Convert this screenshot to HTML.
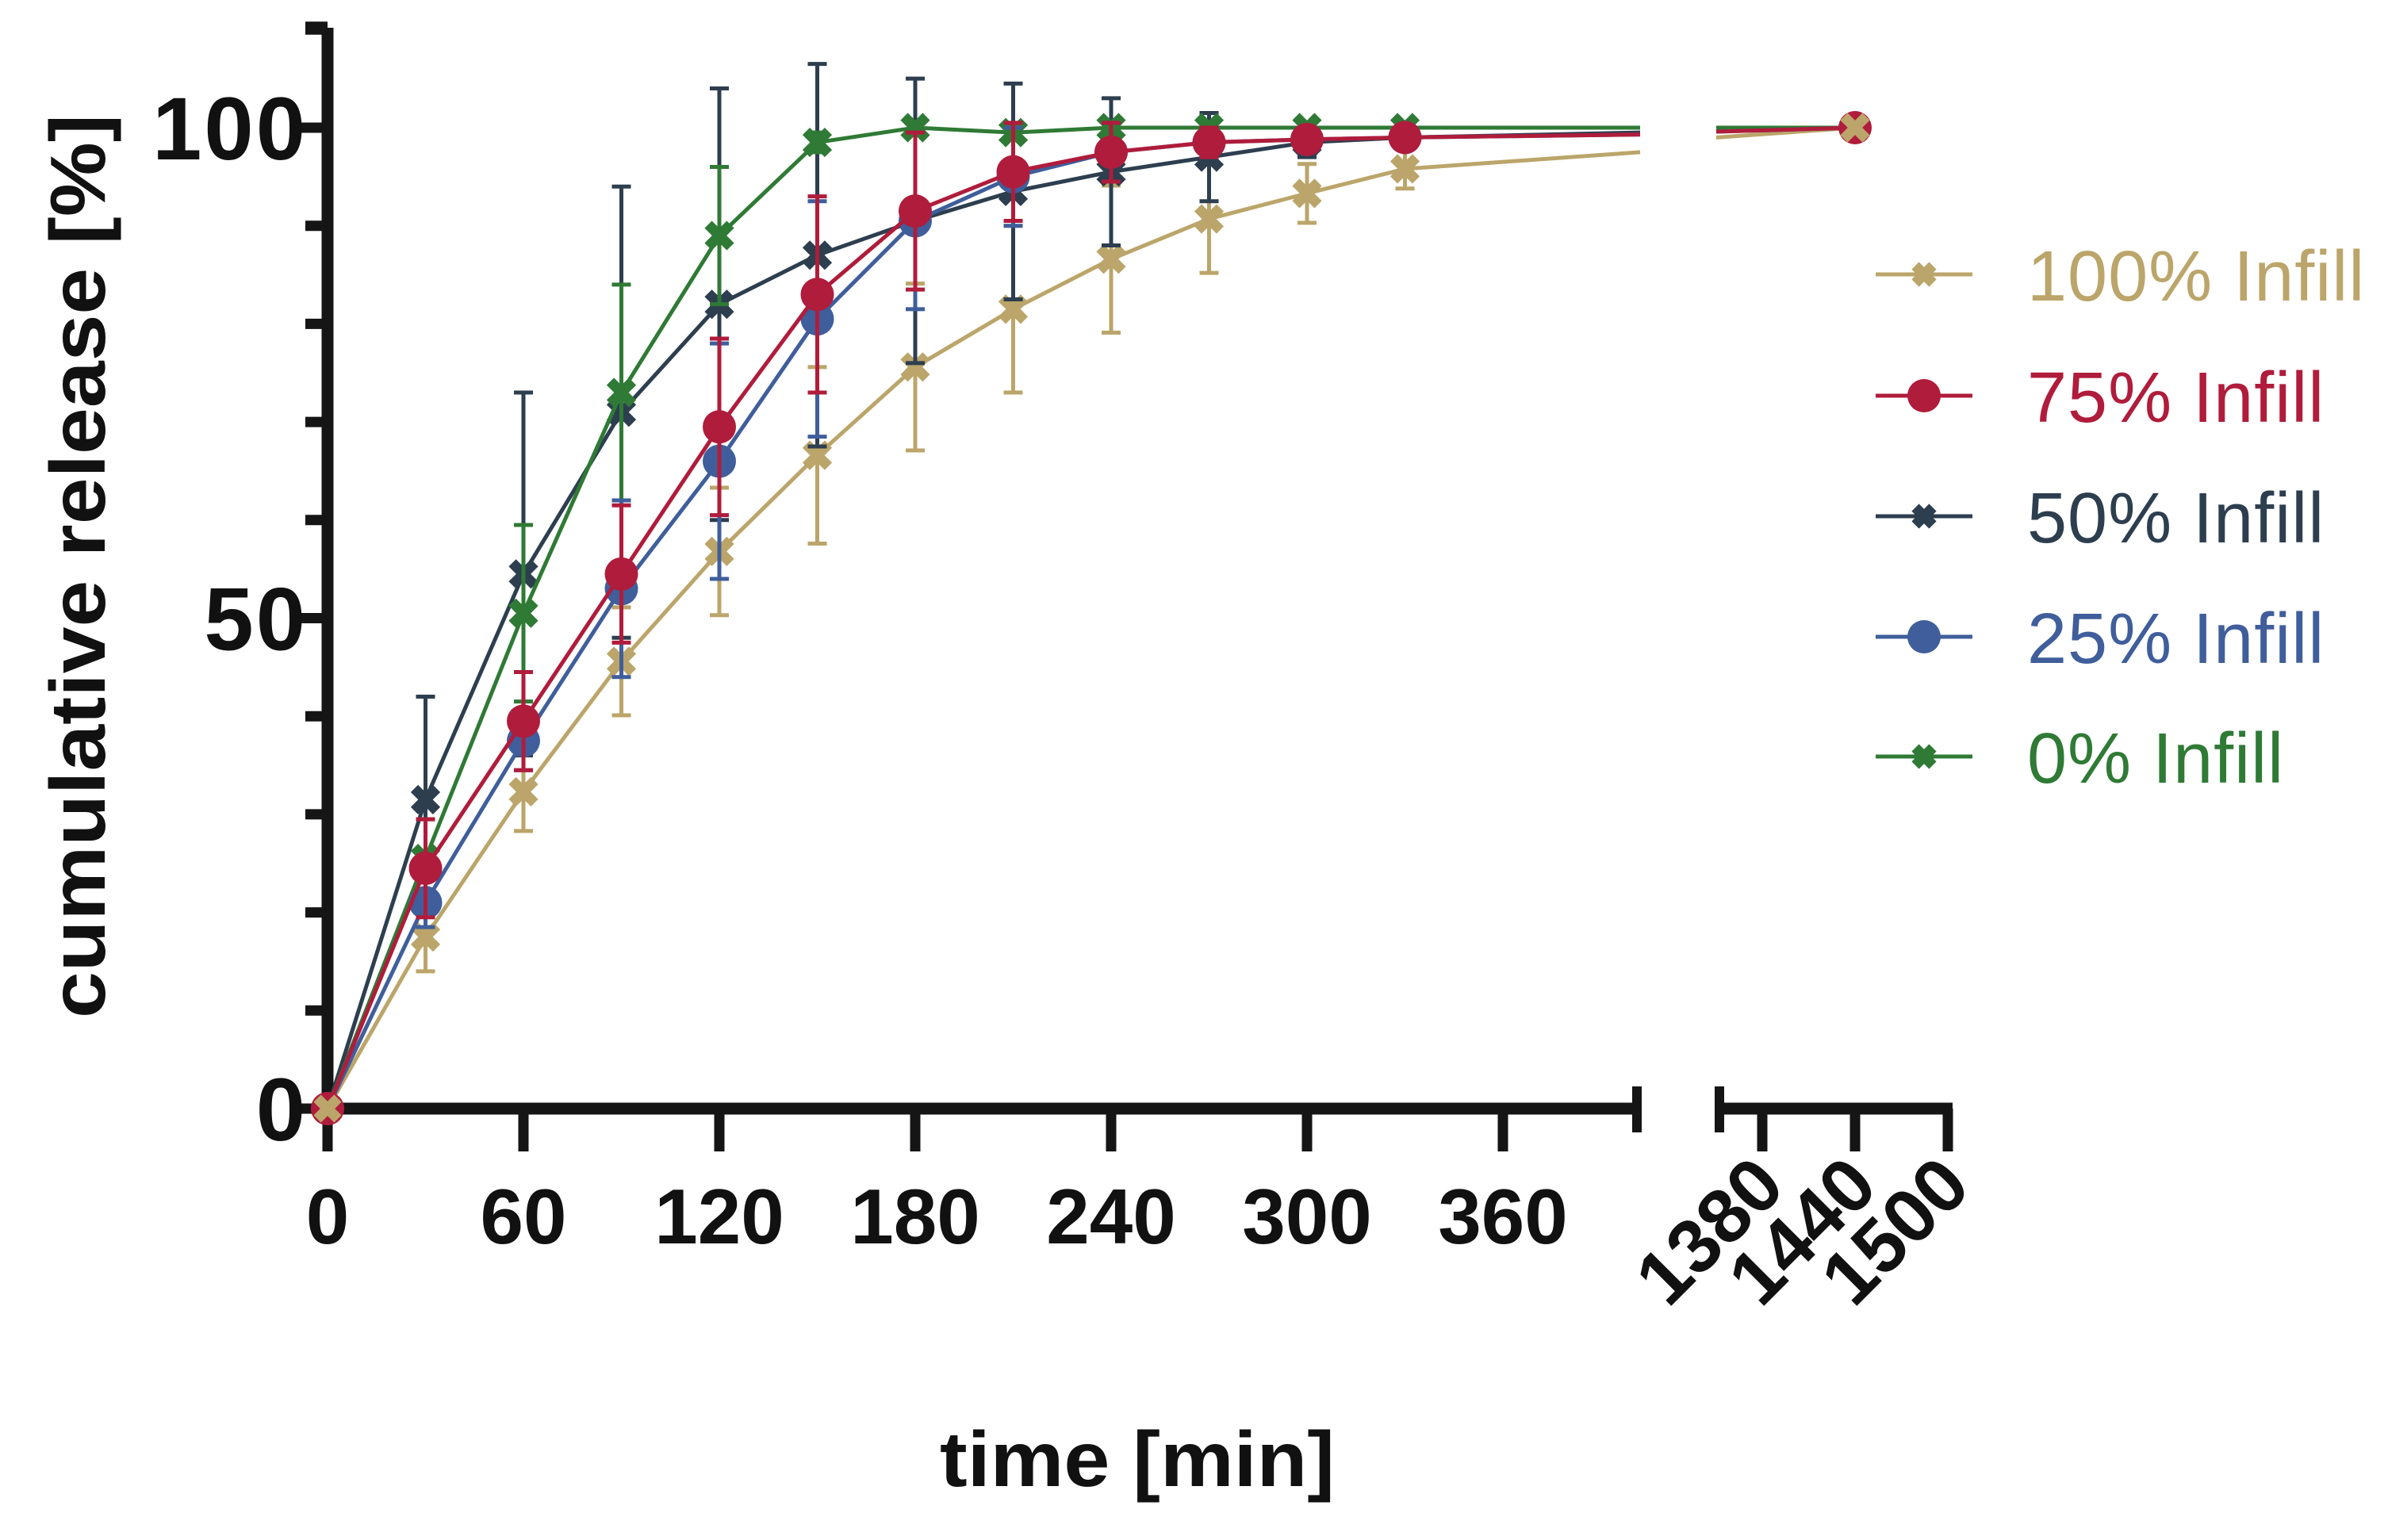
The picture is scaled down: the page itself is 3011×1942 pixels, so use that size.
<!DOCTYPE html>
<html><head><meta charset="utf-8">
<style>
html,body{margin:0;padding:0;background:#fff;}
svg{display:block;font-family:"Liberation Sans",Arial,sans-serif;}
</style></head>
<body>
<svg id="chart" width="3011" height="1942" viewBox="0 0 3011 1942" xmlns="http://www.w3.org/2000/svg">
<g id="axes"></g>
<g id="plot"></g>
<g id="legend"></g>
<text x="1434" y="1874" font-size="98" font-weight="bold" text-anchor="middle" fill="#111" textLength="498" lengthAdjust="spacingAndGlyphs">time [min]</text>
<text transform="translate(132,714) rotate(-90)" font-size="98" font-weight="bold" text-anchor="middle" fill="#111" textLength="1140" lengthAdjust="spacingAndGlyphs">cumulative release [%]</text>
</svg>
<script>
const times = [0,30,60,90,120,150,180,210,240,270,300,330];
const seriesNames = ["100% Infill","75% Infill","50% Infill","25% Infill","0% Infill"];
const seriesColors = ["#bba56a","#b01c3b","#2d3e4f","#3f5e9b","#2f7a35"];
const seriesMarkers = ["x","o","x","o","x"];
const v100 = [0,17.5,32.3,45.6,56.8,66.6,75.6,81.5,86.6,90.7,93.3,95.8];
const e100 = [0,3.5,4,5.5,6.5,9,8.5,8.5,7.5,5.5,3,2];
const v75 = [0,24.5,39.5,54.5,69.5,83,91.5,95.5,97.5,98.5,98.8,99];
const e75 = [0,5,5,7,9,10,8,5,3,1.5,1,0.5];
const v50 = [0,31.5,54.5,71,82,87,90.5,93.5,95.5,97,98.5,99];
const e50 = [0,10.5,18.5,23,22,19.5,14.5,11,7.5,4.5,1.5,0.5];
const v25 = [0,21,37.5,53,66,80.5,90.5,95,97.5,98.5,98.8,99];
const e25 = [0,2.5,3,9,12,12,9,5,3,1.5,1,0.5];
const v0 = [0,25.5,50.5,73,89,98.5,100,99.5,100,100,100,100];
const e0 = [0,4,9,11,7,1,0.5,0.5,0.5,0.5,0.5,0.5];
const breakLeftVals = [97.5,99.3,99.5,99.3,100];
const breakRightVals = [99,99.6,99.7,99.6,100];
const finalTime = 1440;
const finalVals = [100,100,100,100,100];
const xTicksLeft = [0,60,120,180,240,300,360];
const xTicksRight = [1380,1440,1500];
const yTicks = [0,50,100];

const values = [v100,v75,v50,v25,v0];
const errors = [e100,e75,e50,e25,e0];
const NS="http://www.w3.org/2000/svg";
const X0=413, PXMIN=247/60, LEFT_END=2068, BREAK_L_T=(LEFT_END-X0)/PXMIN;
const R0=2222, RPX=117/60, RIGHT_START=2164;
function xs(t){return t<=BREAK_L_T+1 ? X0+t*PXMIN : R0+(t-1380)*RPX;}
function ys(v){return 1398-v*(1398-161)/100;}
function mk(tag,attrs,parent){const e=document.createElementNS(NS,tag);for(const k in attrs)e.setAttribute(k,attrs[k]);parent.appendChild(e);return e;}

const axes=document.getElementById('axes');
let el=mk('line',{x1:X0,y1:35,x2:X0,y2:1406,stroke:'#151515','stroke-width':15},axes);


for(let v=0;v<=110;v+=10){
  const major=yTicks.includes(v);
  el=mk('line',{x1:major?372:385,y1:ys(v),x2:X0,y2:ys(v),stroke:'#151515','stroke-width':13},axes);
  
  
}
el=mk('line',{x1:385,y1:ys(110)-5,x2:X0,y2:ys(110)-5,stroke:'#151515','stroke-width':10},axes);


yTicks.forEach(v=>{
  const t=mk('text',{x:388,y:ys(v)+40,'font-size':112,'font-weight':'bold','text-anchor':'end',fill:'#111','letter-spacing':3},axes);
  t.textContent=v;
  
  
});
el=mk('line',{x1:X0-8,y1:1398,x2:LEFT_END,y2:1398,stroke:'#151515','stroke-width':15},axes);


el=mk('line',{x1:LEFT_END-4,y1:1370,x2:LEFT_END-4,y2:1428,stroke:'#151515','stroke-width':12},axes);


xTicksLeft.forEach(t=>{
  el=mk('line',{x1:xs(t),y1:1398,x2:xs(t),y2:1452,stroke:'#151515','stroke-width':13},axes);
  
  
  const tx=mk('text',{x:xs(t),y:1568,'font-size':98,'font-weight':'bold','text-anchor':'middle',fill:'#111'},axes);
  tx.textContent=t;
  
  
});
el=mk('line',{x1:RIGHT_START,y1:1398,x2:xs(1500)+6,y2:1398,stroke:'#151515','stroke-width':15},axes);


el=mk('line',{x1:RIGHT_START+4,y1:1370,x2:RIGHT_START+4,y2:1428,stroke:'#151515','stroke-width':12},axes);


xTicksRight.forEach(t=>{
  el=mk('line',{x1:xs(t),y1:1398,x2:xs(t),y2:1452,stroke:'#151515','stroke-width':13},axes);
  
  
  const tx=mk('text',{transform:`translate(${xs(t)+32},1500) rotate(-45)`,'font-size':96,'font-weight':'bold','text-anchor':'end',fill:'#111'},axes);
  tx.textContent=t;
  
  
});

function marker(g,type,x,y,c,r){
  if(type==='o'){
    return mk('circle',{cx:x,cy:y,r:r||21,fill:c},g);
  }
  const s=r||14;
  const m=mk('g',{},g);
  mk('line',{x1:x-s,y1:y-s,x2:x+s,y2:y+s,stroke:c,'stroke-width':13},m);
  mk('line',{x1:x-s,y1:y+s,x2:x+s,y2:y-s,stroke:c,'stroke-width':13},m);
  return m;
}

const plot=document.getElementById('plot');
[0,2,4,3,1].forEach(i=>{
  const c=seriesColors[i], vals=values[i], errs=errors[i];
  const g=mk('g',{},plot);
  
  
  vals.forEach((v,j)=>{
    if(errs[j]<=0.6)return;
    const x=xs(times[j]);
    const eb=mk('path',{d:`M${x},${ys(v-errs[j])}V${ys(v+errs[j])}M${x-12},${ys(v+errs[j])}H${x+12}M${x-12},${ys(v-errs[j])}H${x+12}`,stroke:c,'stroke-width':5,fill:'none'},g);
    
    
  });
  let pts=times.map((t,j)=>xs(t)+','+ys(vals[j]));
  pts.push(LEFT_END+','+ys(breakLeftVals[i]));
  const ln=mk('polyline',{points:pts.join(' '),fill:'none',stroke:c,'stroke-width':5},g);
  
  
  const ln2=mk('line',{x1:RIGHT_START,y1:ys(breakRightVals[i]),x2:xs(finalTime),y2:ys(finalVals[i]),stroke:c,'stroke-width':5},g);
  
  
  vals.forEach((v,j)=>{
    const m=marker(g,seriesMarkers[i],xs(times[j]),ys(v),c);
    
    
  });
});
let fp=marker(plot,'o',xs(finalTime),ys(finalVals[1]),seriesColors[1],21);


fp=marker(plot,'x',xs(finalTime),ys(finalVals[0]),seriesColors[0],14);


let z=marker(plot,'o',xs(0),ys(0),seriesColors[1],19);


z=marker(plot,'x',xs(0),ys(0),seriesColors[0],13);



const legend=document.getElementById('legend');
const legY=[346,499,651,803,954];
seriesNames.forEach((n,i)=>{
  const g=mk('g',{},legend);
  
  
  mk('line',{x1:2365,y1:legY[i],x2:2487,y2:legY[i],stroke:seriesColors[i],'stroke-width':5},g);
  marker(g,seriesMarkers[i],2426,legY[i],seriesColors[i],seriesMarkers[i]==='o'?21:11);
  const t=mk('text',{x:2556,y:legY[i]+33,'font-size':90,fill:seriesColors[i],'letter-spacing':1},g);
  t.textContent=n;
});
</script>
</body></html>
